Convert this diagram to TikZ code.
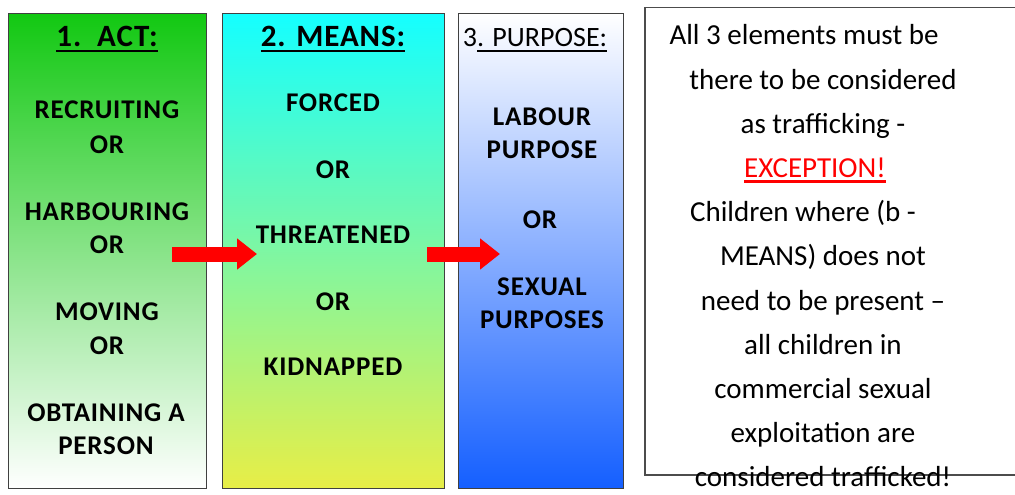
\documentclass[tikz,border=0pt]{standalone}
\usepackage{fontspec}
\setmainfont{Carlito}
\newfontfamily\boxfont[LetterSpace=3]{Carlito}
\usetikzlibrary{arrows.meta}

\definecolor{actgreen}{RGB}{18,200,18}
\definecolor{actmid}{RGB}{170,228,170}
\definecolor{meanstop}{RGB}{20,255,255}
\definecolor{meansmid}{RGB}{182,248,202}
\definecolor{meansbot}{RGB}{232,238,70}
\definecolor{purpmid}{RGB}{196,206,251}
\definecolor{purpblue}{RGB}{20,95,255}

% thick underline for headings
\newcommand{\ulined}[1]{\setbox0\hbox{#1}\rlap{\rule[-5pt]{\wd0}{2.2pt}}\box0}

\begin{document}
\begin{tikzpicture}[
        x=1pt, y=-1pt,
        col/.style={draw=black!75, line width=1.4pt, minimum height=475pt, inner sep=0pt, anchor=north west},
        head/.style={font=\fontsize{31}{34}\selectfont\boxfont\bfseries, anchor=base},
        item/.style={font=\fontsize{27}{30}\selectfont\boxfont\bfseries},
        redarrow/.style={red, line width=15pt, -{Triangle[length=20pt, width=30pt]}}
    ]
    \useasboundingbox (0,0) rectangle (1015,495);
    % three columns
    \node[col, minimum width=198pt, top color=actgreen, middle color=actmid, bottom color=white] (act) at (8,13) {};
    \node[col, minimum width=222pt, top color=meanstop, middle color=meansmid, bottom color=meansbot] (means) at (222,13) {};
    \node[col, minimum width=165pt, top color=white, middle color=purpmid, bottom color=purpblue] (purpose) at (458,13) {};
    % 1. act
    \node[head] (acthead) at (107,47) {\ulined{1.\ \ ACT:}};
    \node[item] (recruit) at (107,110) {RECRUITING};
    \node[item] (or1) at (107,145) {OR};
    \node[item] (harbour) at (107,212) {HARBOURING};
    \node[item] (or2) at (107,245) {OR};
    \node[item] (moving) at (107,312) {MOVING};
    \node[item] (or3) at (107,346) {OR};
    \node[item] (obtain) at (106,413) {OBTAINING A};
    \node[item] (person) at (106,446) {PERSON};
    % 2. means
    \node[head] (meanshead) at (333,47) {\ulined{2. MEANS:}};
    \node[item] (forced) at (333,103) {FORCED};
    \node[item] (or4) at (333,170) {OR};
    \node[item] (threat) at (333,235) {THREATENED};
    \node[item] (or5) at (333,302) {OR};
    \node[item] (kidnap) at (333,367) {KIDNAPPED};
    % 3. purpose
    \node[head, font=\fontsize{28}{32}\selectfont] (purphead) at (535,47) {3\ulined{. PURPOSE:}};
    \node[item] (labour) at (542,117) {LABOUR};
    \node[item] (labpurp) at (542,150) {PURPOSE};
    \node[item] (or6) at (540,220) {OR};
    \node[item] (sexual) at (542,287) {SEXUAL};
    \node[item] (sexpurp) at (542,320) {PURPOSES};
    % arrows between columns
    \coordinate (a1s) at (172,254);
    \coordinate (a1e) at (257,254);
    \coordinate (a2s) at (427,254);
    \coordinate (a2e) at (500,254);
    \draw[redarrow] (a1s) -- (a1e);
    \draw[redarrow] (a2s) -- (a2e);
    % note on the right
    \node[draw=black!70, line width=1.5pt, minimum width=376pt, minimum height=467pt, inner sep=0pt, anchor=north west] (note) at (644,7) {};
    \node[align=center, font=\fontsize{29}{44.2}\selectfont] (notetext) at (823,256) {
        All 3 elements must be\rule{38pt}{0pt}\\
        there to be considered\\
        as trafficking -\\
        {\color{red}\ulined{EXCEPTION!}}\rule{16pt}{0pt}\\
        Children where (b -\rule{40pt}{0pt}\\
        MEANS) does not\\
        need to be present –\\
        all children in\\
        commercial sexual\\
        exploitation are\\
        considered trafficked!};
\end{tikzpicture}
\end{document}
